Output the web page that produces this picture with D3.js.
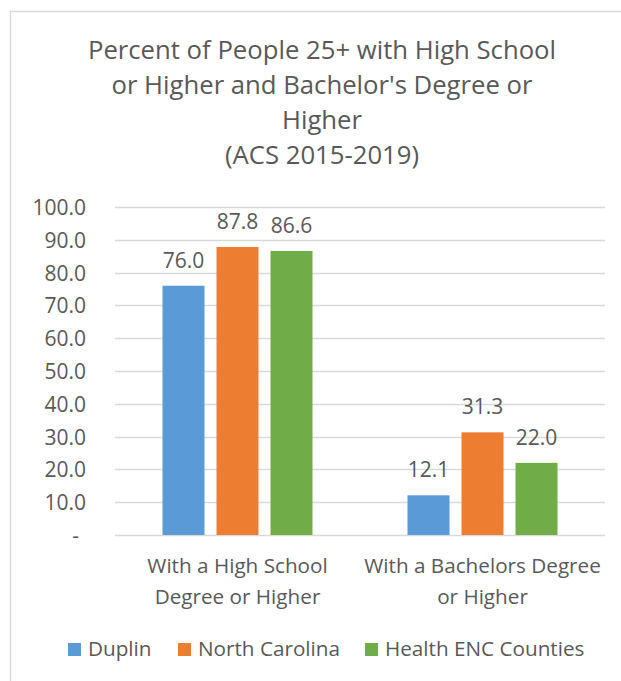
<!DOCTYPE html>
<html>
<head>
<meta charset="utf-8">
<script src="https://cdn.jsdelivr.net/npm/d3@7"></script>
<style>
  html, body { margin: 0; padding: 0; background: #fff; }
  svg { display: block; }
  text { font-family: "Open Sans", Lato, sans-serif; fill: #595959; }
</style>
</head>
<body>
<svg id="chart" width="621" height="681"></svg>
<script>
// Educational attainment, people aged 25+ (ACS 2015-2019)
const categories = [
  ["With a High School", "Degree or Higher"],
  ["With a Bachelors Degree", "or Higher"]
];
const seriesNames = ["Duplin", "North Carolina", "Health ENC Counties"];
const duplin = [76.0, 12.1];
const northCarolina = [87.8, 31.3];
const healthEnc = [86.6, 22.0];
const seriesColors = ["#5b9bd5", "#ed7d31", "#70ad47"];
const yTicks = [0, 10, 20, 30, 40, 50, 60, 70, 80, 90, 100];
const titleLines = [
  "Percent of People 25+ with High School",
  "or Higher and Bachelor's Degree or",
  "Higher",
  "(ACS 2015-2019)"
];

const seriesValues = [duplin, northCarolina, healthEnc];

const svg = d3.select("#chart");

// chart area frame (extends past the right and bottom edges)
svg.append("rect")
  .attr("x", 10.5).attr("y", 11.5)
  .attr("width", 800).attr("height", 800)
  .attr("fill", "none").attr("stroke", "#d9d9d9").attr("stroke-width", 1.5);

// title
const title = svg.append("text")
  .attr("text-anchor", "middle")
  .style("font-size", "25.7px");
titleLines.forEach((line, i) => {
  title.append("tspan")
    .attr("x", 322)
    .attr("y", 59 + i * 35)
    .text(line);
});

const plot = { left: 115, right: 605, top: 207, bottom: 535 };

const y = d3.scaleLinear().domain([0, 100]).range([plot.bottom, plot.top]);
const x0 = d3.scaleBand().domain(d3.range(categories.length))
  .range([plot.left, plot.right]).padding(0);
const x1 = d3.scaleBand().domain(d3.range(seriesNames.length))
  .range([-75, 75]).paddingInner(12 / 54).paddingOuter(0);

// gridlines
svg.append("g")
  .selectAll("line")
  .data(yTicks)
  .join("line")
  .attr("x1", plot.left).attr("x2", plot.right)
  .attr("y1", d => Math.round(y(d)) + 0.5).attr("y2", d => Math.round(y(d)) + 0.5)
  .attr("stroke", "#d9d9d9").attr("stroke-width", 1.5);

// y axis labels
const yAxis = d3.axisLeft(y)
  .tickValues(yTicks)
  .tickSize(0)
  .tickPadding(0)
  .tickFormat(d => d === 0 ? "-" : d3.format(".1f")(d));
const yg = svg.append("g")
  .attr("transform", `translate(86,0)`)
  .call(yAxis);
yg.select(".domain").remove();
yg.selectAll("text")
  .style("font-size", "21px")
  .style("font-family", "'Open Sans', sans-serif")
  .attr("fill", "#595959")
  .attr("dy", "0.36em");
yg.selectAll(".tick").filter(d => d === 0).select("text").attr("dx", "-7");

// bars
const groups = svg.append("g")
  .selectAll("g")
  .data(categories.map((c, i) => i))
  .join("g")
  .attr("transform", i => `translate(${x0(i) + x0.bandwidth() / 2},0)`);

groups.selectAll("rect")
  .data(i => seriesValues.map((vals, s) => ({ s, v: vals[i] })))
  .join("rect")
  .attr("x", d => x1(d.s))
  .attr("width", x1.bandwidth())
  .attr("y", d => y(d.v))
  .attr("height", d => y(0) - y(d.v))
  .attr("fill", d => seriesColors[d.s]);

// value labels
groups.selectAll("text.value")
  .data(i => seriesValues.map((vals, s) => ({ s, v: vals[i] })))
  .join("text")
  .attr("class", "value")
  .attr("text-anchor", "middle")
  .attr("x", d => x1(d.s) + x1.bandwidth() / 2)
  .attr("y", d => y(d.v) - 18)
  .style("font-size", "21px")
  .text(d => d3.format(".1f")(d.v));

// category labels
groups.append("text")
  .attr("text-anchor", "middle")
  .style("font-size", "20.7px")
  .selectAll("tspan")
  .data(i => categories[i])
  .join("tspan")
  .attr("x", 0)
  .attr("y", (d, j) => 573 + j * 31)
  .text(d => d);

// legend
const legendX = [68, 178, 365];
const legend = svg.append("g");
seriesNames.forEach((name, s) => {
  legend.append("rect")
    .attr("x", legendX[s]).attr("y", 643)
    .attr("width", 13).attr("height", 13)
    .attr("fill", seriesColors[s]);
  legend.append("text")
    .attr("x", legendX[s] + 20).attr("y", 656)
    .style("font-size", "20.7px")
    .text(name);
});
</script>
</body>
</html>
